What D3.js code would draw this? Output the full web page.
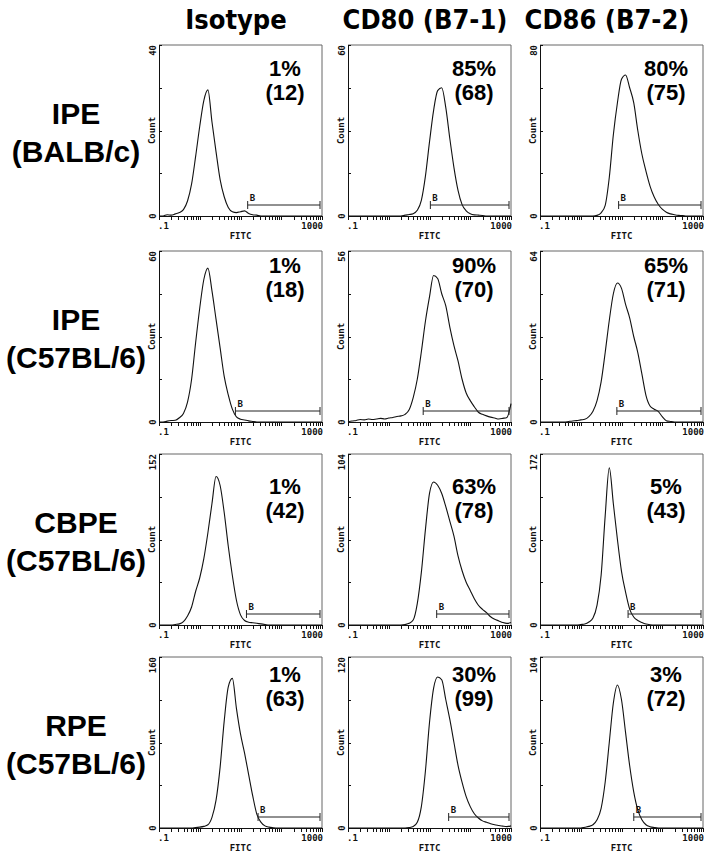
<!DOCTYPE html>
<html>
<head>
<meta charset="utf-8">
<script src="https://cdn.jsdelivr.net/npm/d3@7"></script>
<style>
body { margin: 0; background: #fff; }
svg { display: block; }
.axis path, .axis line { stroke: #111; stroke-width: 1; shape-rendering: crispEdges; }
.mono { font-family: 'DejaVu Sans Mono', monospace; font-weight: bold; font-size: 9px; fill: #111; }
.head { font-family: 'Liberation Sans Narrow', 'DejaVu Sans Condensed', 'Liberation Sans', sans-serif; font-weight: bold; font-size: 27px; }
.rowlab { font-family: 'Liberation Sans', Arial, sans-serif; font-weight: bold; font-size: 30px; }
.pct { font-family: 'Liberation Sans', Arial, sans-serif; font-weight: bold; font-size: 22px; }
</style>
</head>
<body>
<script>
// chart values
var columns = ['Isotype', 'CD80 (B7-1)', 'CD86 (B7-2)'];
var rowNames = ['IPE', 'IPE', 'CBPE', 'RPE'];
var rowStrains = ['(BALB/c)', '(C57BL/6)', '(C57BL/6)', '(C57BL/6)'];
var yMax = [[40, 60, 80], [60, 56, 64], [152, 104, 172], [160, 120, 104]];
var pct = [[1, 85, 80], [1, 90, 65], [1, 63, 5], [1, 30, 3]];
var mfi = [[12, 68, 75], [18, 70, 71], [42, 78, 43], [63, 99, 72]];
var gateStart = [[15, 10.5, 8.5], [7.5, 7, 7.7], [14, 15, 14.5], [27, 29.5, 20]];

// counts per channel, channels every 0.1 decade from .1 to 1000
var histIsoBalb = [0,0,0.3,0.2,0.5,0.8,1.5,3.5,7.5,14,21,27,29.5,22,15,8.5,4.5,2,1,0.8,1,1.2,0.6,0.3,0.2,0,0,0,0,0,0,0,0,0,0,0,0,0,0,0,0];
var histCd80Balb = [0,0,0,0,0,0,0,0,0,0,0,0,0,0,0.3,0.5,0.8,2,5.5,14,26,37,44,45,38,27,17,9,4,1.8,0.8,0.4,0.3,0.2,0,0,0,0,0,0,0];
var histCd86Balb = [0,0,0,0,0,0,0,0,0,0,0,0,0,0,0.3,1.5,5,18,38,53,64,66,60,53,40,29,21,14,9,5.5,3.2,1.8,1,0.6,0.3,0.2,0,0,0,0,0];
var histIsoC57 = [0,0,0.3,0.5,0.6,1.5,3,7,15,28,40,50,54,46,36,26,16,9.5,4.5,1.8,1,0.7,0.4,0.2,0,0,0,0,0,0,0,0,0,0,0,0,0,0,0,0,0];
var histCd80C57 = [0,0.3,0.5,0.8,0.7,1,0.8,1,1.2,1,1.3,1.5,1.8,2,2.5,4,8,14,23,33,41,48,47,42,38,31,25,20,14,9.5,7,5,3.2,2.5,2,1.6,1.3,1,1.2,1.5,6];
var histCd86C57 = [0,0,0,0,0,0,0,0.2,0.4,0.5,0.8,1,2,4,8,15,26,38,48,52,50,44,39,32,26,18,10,6,4.8,4,2,0.5,0.2,0,0,0,0,0,0,0,0];
var histIsoCbpe = [0,0,0,0,0.5,1,3,8,16,30,42,59,82,108,132,124,100,70,44,22,9,4,2.5,2,1.5,1,0.5,0,0,0,0,0,0,0,0,0,0,0,0,0,0];
var histCd80Cbpe = [0,0,0,0,0,0,0,0,0,0,0,0,0,0,0.3,1,3,13,32,58,80,87,85,80,72,63,54,42,33,26,21,16,12,9.5,7.5,5,3.5,2.5,1.5,1,1.5];
var histCd86Cbpe = [0,0,0,0,0,0,0,0,0,0,0.5,1,3,7,20,50,110,158,122,86,54,33,16,8,4.5,2.5,1,0.3,0,0,0,0,0,0,0,0,0,0,0,0,0];
var histIsoRpe = [0,0,0,0,0,0,0,0,0,0.5,0.8,1.5,3,10,26,57,100,132,140,112,88,70,50,30,13,5.5,2,0.8,0.3,0,0,0,0,0,0,0,0,0,0,0,0];
var histCd80Rpe = [0,0,0,0,0,0,0,0,0,0,0,0,0,0,0,0.3,1,4,15,40,74,98,106,104,90,76,60,44,32,22,15,10,7,5,4,3,2.3,1.8,1.3,1,1.5];
var histCd86Rpe = [0,0,0,0,0,0,0,0,0,0,0,0.5,1,2,5,12,28,52,76,87,78,58,38,22,11,5,2,0.8,0.3,0,0,0,0,0,0,0,0,0,0,0,0];

var hists = [
	[histIsoBalb, histCd80Balb, histCd86Balb],
	[histIsoC57, histCd80C57, histCd86C57],
	[histIsoCbpe, histCd80Cbpe, histCd86Cbpe],
	[histIsoRpe, histCd80Rpe, histCd86Rpe]
];

// layout
var W = 704, H = 853;
var colX = [159, 348, 540];
var rowY = [45, 251, 454, 657];
var plotW = 163, plotH = 171;
var headX = [236, 425, 607];
var pctY = [31, 22, 40, 25];

var channels = d3.range(41).map(function(i) { return Math.pow(10, -1 + i / 10); });

var svg = d3.select('body')
	.append('svg')
	.attr('width', W)
	.attr('height', H);

svg.append('rect')
	.attr('width', W)
	.attr('height', H)
	.attr('fill', '#fff');

var x = d3.scaleLog()
	.domain([0.1, 1000])
	.range([0, plotW]);

var xTicks = [];
[-1, 0, 1, 2].forEach(function(d) {
	for (var k = 1; k <= 9; k++) xTicks.push(k * Math.pow(10, d));
});
xTicks.push(1000);

svg.selectAll('.head')
	.data(columns)
	.enter()
	.append('text')
	.attr('class', 'head')
	.attr('x', function(d, i) { return headX[i]; })
	.attr('y', 29)
	.attr('text-anchor', 'middle')
	.text(function(d) { return d; });

rowNames.forEach(function(name, r) {
	var cy = rowY[r] + plotH / 2;
	svg.append('text')
		.attr('class', 'rowlab')
		.attr('x', 76)
		.attr('y', cy - 7)
		.attr('text-anchor', 'middle')
		.text(name);
	svg.append('text')
		.attr('class', 'rowlab')
		.attr('x', 76)
		.attr('y', cy + 31)
		.attr('text-anchor', 'middle')
		.text(rowStrains[r]);
});

var drawPanel = function(r, c) {
	var g = svg.append('g')
		.attr('transform', 'translate(' + colX[c] + ',' + rowY[r] + ')');
	var ymax = yMax[r][c];
	var y = d3.scaleLinear()
		.domain([0, ymax])
		.range([plotH, 0]);

	// light frame on top and right
	g.append('path')
		.attr('d', 'M0,0H' + plotW + 'V' + plotH)
		.attr('fill', 'none')
		.attr('stroke', '#666')
		.attr('stroke-width', 1);

	g.append('g')
		.attr('class', 'axis')
		.attr('transform', 'translate(0,' + plotH + ')')
		.call(d3.axisBottom(x).tickValues(xTicks).tickSize(4).tickSizeOuter(0).tickFormat(''));

	g.append('g')
		.attr('class', 'axis')
		.call(d3.axisLeft(y).tickValues([0, ymax / 4, ymax / 2, ymax * 3 / 4, ymax]).tickSize(-3).tickSizeOuter(0).tickFormat(''));

	g.append('text')
		.attr('class', 'mono')
		.attr('x', -1)
		.attr('y', plotH + 13)
		.text('.1');
	g.append('text')
		.attr('class', 'mono')
		.attr('x', plotW + 1)
		.attr('y', plotH + 13)
		.attr('text-anchor', 'end')
		.text('1000');
	g.append('text')
		.attr('class', 'mono')
		.attr('x', plotW / 2)
		.attr('y', plotH + 23)
		.attr('text-anchor', 'middle')
		.text('FITC');

	g.append('text')
		.attr('class', 'mono')
		.attr('transform', 'translate(-3,' + y(ymax) + ') rotate(-90)')
		.attr('text-anchor', 'end')
		.text(ymax);
	g.append('text')
		.attr('class', 'mono')
		.attr('transform', 'translate(-3,' + y(0) + ') rotate(-90)')
		.attr('text-anchor', 'middle')
		.text('0');
	g.append('text')
		.attr('class', 'mono')
		.attr('transform', 'translate(-4,' + (plotH / 2) + ') rotate(-90)')
		.attr('text-anchor', 'middle')
		.text('Count');

	var line = d3.line()
		.x(function(d, i) { return x(channels[i]); })
		.y(function(d) { return y(d); })
		.curve(d3.curveMonotoneX);

	g.append('path')
		.datum(hists[r][c])
		.attr('d', line)
		.attr('fill', 'none')
		.attr('stroke', '#111')
		.attr('stroke-width', 1.1);

	// gate marker B
	var gx0 = x(gateStart[r][c]);
	var gx1 = x(1000) - 2;
	var gy = plotH - 11;
	g.append('line')
		.attr('x1', gx0).attr('x2', gx1)
		.attr('y1', gy).attr('y2', gy)
		.attr('stroke', '#222')
		.attr('stroke-width', 1);
	[gx0, gx1].forEach(function(px) {
		g.append('line')
			.attr('x1', px).attr('x2', px)
			.attr('y1', gy - 4).attr('y2', gy + 4)
			.attr('stroke', '#222')
			.attr('stroke-width', 1);
	});
	g.append('text')
		.attr('class', 'mono')
		.attr('x', gx0 + 2)
		.attr('y', gy - 4)
		.text('B');

	g.append('text')
		.attr('class', 'pct')
		.attr('x', plotW - 37)
		.attr('y', pctY[r])
		.attr('text-anchor', 'middle')
		.text(pct[r][c] + '%');
	g.append('text')
		.attr('class', 'pct')
		.attr('x', plotW - 37)
		.attr('y', pctY[r] + 24)
		.attr('text-anchor', 'middle')
		.text('(' + mfi[r][c] + ')');
};

for (var r = 0; r < 4; r++) {
	for (var c = 0; c < 3; c++) {
		drawPanel(r, c);
	}
}
</script>
</body>
</html>
